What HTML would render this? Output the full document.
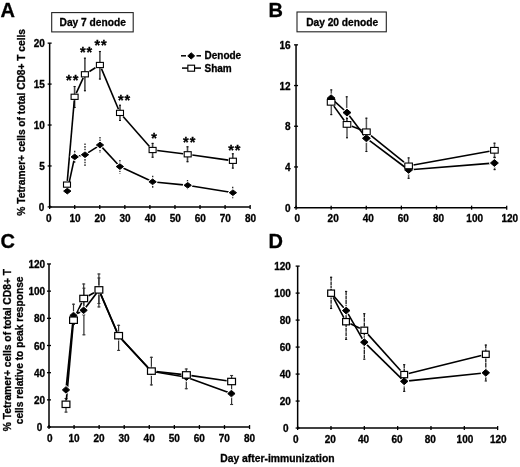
<!DOCTYPE html>
<html><head><meta charset="utf-8"><style>
html,body{margin:0;padding:0;background:#fff;}
svg{display:block;will-change:transform;}
text{font-family:"Liberation Sans",sans-serif;font-weight:bold;fill:#000;stroke:#000;stroke-width:0.3px;}
</style></head><body>
<svg width="520" height="467" viewBox="0 0 520 467">
<rect width="520" height="467" fill="#fff"/>
<text x="0.5" y="16.8" font-size="20" text-anchor="start" >A</text>
<rect x="51.7" y="12.6" width="81.5" height="19.3" fill="#fff" stroke="#222" stroke-width="1.1"/>
<text x="59.6" y="25.5" font-size="10.2" text-anchor="start" >Day 7 denode</text>
<line x1="49.65" y1="206.9" x2="49.65" y2="43.15" stroke="#000" stroke-width="1.5" />
<line x1="49.65" y1="206.9" x2="250.15" y2="206.9" stroke="#000" stroke-width="1.5" />
<line x1="47.65" y1="206.9" x2="51.65" y2="206.9" stroke="#000" stroke-width="1.3" />
<text x="44.25" y="211.0" font-size="10" text-anchor="end" >0</text>
<line x1="47.65" y1="165.96" x2="51.65" y2="165.96" stroke="#000" stroke-width="1.3" />
<text x="44.85" y="170.06" font-size="10" text-anchor="end" >5</text>
<line x1="47.65" y1="125.02000000000001" x2="51.65" y2="125.02000000000001" stroke="#000" stroke-width="1.3" />
<text x="44.85" y="129.12" font-size="10" text-anchor="end" >10</text>
<line x1="47.65" y1="84.08000000000001" x2="51.65" y2="84.08000000000001" stroke="#000" stroke-width="1.3" />
<text x="44.85" y="88.18" font-size="10" text-anchor="end" >15</text>
<line x1="47.65" y1="43.140000000000015" x2="51.65" y2="43.140000000000015" stroke="#000" stroke-width="1.3" />
<text x="44.85" y="47.240000000000016" font-size="10" text-anchor="end" >20</text>
<line x1="49.65" y1="204.9" x2="49.65" y2="208.9" stroke="#000" stroke-width="1.3" />
<text x="48.9" y="222.1" font-size="10" text-anchor="middle" >0</text>
<line x1="74.7125" y1="204.9" x2="74.7125" y2="208.9" stroke="#000" stroke-width="1.3" />
<text x="75.0125" y="222.1" font-size="10" text-anchor="middle" >10</text>
<line x1="99.775" y1="204.9" x2="99.775" y2="208.9" stroke="#000" stroke-width="1.3" />
<text x="100.075" y="222.1" font-size="10" text-anchor="middle" >20</text>
<line x1="124.8375" y1="204.9" x2="124.8375" y2="208.9" stroke="#000" stroke-width="1.3" />
<text x="125.1375" y="222.1" font-size="10" text-anchor="middle" >30</text>
<line x1="149.9" y1="204.9" x2="149.9" y2="208.9" stroke="#000" stroke-width="1.3" />
<text x="150.20000000000002" y="222.1" font-size="10" text-anchor="middle" >40</text>
<line x1="174.9625" y1="204.9" x2="174.9625" y2="208.9" stroke="#000" stroke-width="1.3" />
<text x="175.26250000000002" y="222.1" font-size="10" text-anchor="middle" >50</text>
<line x1="200.025" y1="204.9" x2="200.025" y2="208.9" stroke="#000" stroke-width="1.3" />
<text x="200.32500000000002" y="222.1" font-size="10" text-anchor="middle" >60</text>
<line x1="225.0875" y1="204.9" x2="225.0875" y2="208.9" stroke="#000" stroke-width="1.3" />
<text x="225.38750000000002" y="222.1" font-size="10" text-anchor="middle" >70</text>
<line x1="250.15" y1="204.9" x2="250.15" y2="208.9" stroke="#000" stroke-width="1.3" />
<text x="250.45000000000002" y="222.1" font-size="10" text-anchor="middle" >80</text>
<text x="0" y="0" font-size="10.2" text-anchor="middle" transform="translate(24.8,122.3) rotate(-90)">% Tetramer+ cells of total CD8+ T cells</text>
<line x1="74.6" y1="86" x2="74.6" y2="108" stroke="#4a4a4a" stroke-width="1.6" />
<line x1="73.6" y1="86.5" x2="75.6" y2="86.5" stroke="#111" stroke-width="1.1" />
<line x1="73.6" y1="107.5" x2="75.6" y2="107.5" stroke="#111" stroke-width="1.1" />
<line x1="84.9" y1="57.7" x2="84.9" y2="91.2" stroke="#4a4a4a" stroke-width="1.6" />
<line x1="83.9" y1="58.2" x2="85.9" y2="58.2" stroke="#111" stroke-width="1.1" />
<line x1="83.9" y1="90.7" x2="85.9" y2="90.7" stroke="#111" stroke-width="1.1" />
<line x1="99.9" y1="51" x2="99.9" y2="79.5" stroke="#4a4a4a" stroke-width="1.6" />
<line x1="98.9" y1="51.5" x2="100.9" y2="51.5" stroke="#111" stroke-width="1.1" />
<line x1="98.9" y1="79.0" x2="100.9" y2="79.0" stroke="#111" stroke-width="1.1" />
<line x1="120" y1="104.8" x2="120" y2="121" stroke="#4a4a4a" stroke-width="1.6" />
<line x1="119.0" y1="105.3" x2="121.0" y2="105.3" stroke="#111" stroke-width="1.1" />
<line x1="119.0" y1="120.5" x2="121.0" y2="120.5" stroke="#111" stroke-width="1.1" />
<line x1="152.6" y1="142.9" x2="152.6" y2="157.7" stroke="#4a4a4a" stroke-width="1.6" />
<line x1="151.6" y1="143.4" x2="153.6" y2="143.4" stroke="#111" stroke-width="1.1" />
<line x1="151.6" y1="157.2" x2="153.6" y2="157.2" stroke="#111" stroke-width="1.1" />
<line x1="187.5" y1="146.3" x2="187.5" y2="162.2" stroke="#4a4a4a" stroke-width="1.6" />
<line x1="186.5" y1="146.8" x2="188.5" y2="146.8" stroke="#111" stroke-width="1.1" />
<line x1="186.5" y1="161.7" x2="188.5" y2="161.7" stroke="#111" stroke-width="1.1" />
<line x1="232.8" y1="153.3" x2="232.8" y2="168.6" stroke="#4a4a4a" stroke-width="1.6" />
<line x1="231.8" y1="153.8" x2="233.8" y2="153.8" stroke="#111" stroke-width="1.1" />
<line x1="231.8" y1="168.1" x2="233.8" y2="168.1" stroke="#111" stroke-width="1.1" />
<line x1="74.7" y1="150.8" x2="74.7" y2="163" stroke="#222" stroke-width="1.3" stroke-dasharray="1.6 1"/>
<line x1="85" y1="143.5" x2="85" y2="166.6" stroke="#222" stroke-width="1.3" stroke-dasharray="1.6 1"/>
<line x1="100" y1="136.9" x2="100" y2="153" stroke="#222" stroke-width="1.3" stroke-dasharray="1.6 1"/>
<line x1="119.9" y1="160" x2="119.9" y2="173.5" stroke="#222" stroke-width="1.3" stroke-dasharray="1.6 1"/>
<line x1="152.7" y1="175.7" x2="152.7" y2="188.6" stroke="#222" stroke-width="1.3" stroke-dasharray="1.6 1"/>
<line x1="187.5" y1="180.1" x2="187.5" y2="189.2" stroke="#222" stroke-width="1.3" stroke-dasharray="1.6 1"/>
<line x1="232.7" y1="186.8" x2="232.7" y2="198.2" stroke="#222" stroke-width="1.3" stroke-dasharray="1.6 1"/>
<line x1="68.04" y1="187.70" x2="73.96" y2="160.30" stroke="#000" stroke-width="1.6"/>
<line x1="78.56" y1="156.08" x2="81.14" y2="155.52" stroke="#000" stroke-width="1.6"/>
<line x1="87.79" y1="152.89" x2="97.21" y2="146.81" stroke="#000" stroke-width="1.6"/>
<line x1="102.16" y1="147.35" x2="117.74" y2="164.25" stroke="#000" stroke-width="1.6"/>
<line x1="123.06" y1="168.07" x2="149.44" y2="180.33" stroke="#000" stroke-width="1.6"/>
<line x1="156.88" y1="182.23" x2="183.42" y2="184.87" stroke="#000" stroke-width="1.6"/>
<line x1="191.73" y1="185.96" x2="228.87" y2="192.04" stroke="#000" stroke-width="1.6"/>
<line x1="67.32" y1="180.90" x2="74.28" y2="100.50" stroke="#000" stroke-width="1.6"/>
<line x1="76.27" y1="93.15" x2="83.23" y2="77.95" stroke="#000" stroke-width="1.6"/>
<line x1="89.41" y1="71.50" x2="95.39" y2="67.80" stroke="#000" stroke-width="1.6"/>
<line x1="101.43" y1="68.65" x2="118.47" y2="109.25" stroke="#000" stroke-width="1.6"/>
<line x1="123.12" y1="116.45" x2="149.48" y2="146.45" stroke="#000" stroke-width="1.6"/>
<line x1="157.20" y1="150.56" x2="183.10" y2="153.74" stroke="#000" stroke-width="1.6"/>
<line x1="192.29" y1="154.96" x2="228.31" y2="160.14" stroke="#000" stroke-width="1.6"/>
<path d="M63.65 191.10L67.30 188.30L70.95 191.10L67.30 193.90Z" fill="#fff" stroke="#fff" stroke-width="2.6" stroke-linejoin="round"/>
<path d="M63.65 191.10L67.30 188.30L70.95 191.10L67.30 193.90Z" fill="#000" stroke="#000" stroke-width="1.0" stroke-linejoin="round"/>
<path d="M71.05 156.90L74.70 154.10L78.35 156.90L74.70 159.70Z" fill="#fff" stroke="#fff" stroke-width="2.6" stroke-linejoin="round"/>
<path d="M71.05 156.90L74.70 154.10L78.35 156.90L74.70 159.70Z" fill="#000" stroke="#000" stroke-width="1.0" stroke-linejoin="round"/>
<path d="M81.35 154.70L85.00 151.90L88.65 154.70L85.00 157.50Z" fill="#fff" stroke="#fff" stroke-width="2.6" stroke-linejoin="round"/>
<path d="M81.35 154.70L85.00 151.90L88.65 154.70L85.00 157.50Z" fill="#000" stroke="#000" stroke-width="1.0" stroke-linejoin="round"/>
<path d="M96.35 145.00L100.00 142.20L103.65 145.00L100.00 147.80Z" fill="#fff" stroke="#fff" stroke-width="2.6" stroke-linejoin="round"/>
<path d="M96.35 145.00L100.00 142.20L103.65 145.00L100.00 147.80Z" fill="#000" stroke="#000" stroke-width="1.0" stroke-linejoin="round"/>
<path d="M116.25 166.60L119.90 163.80L123.55 166.60L119.90 169.40Z" fill="#fff" stroke="#fff" stroke-width="2.6" stroke-linejoin="round"/>
<path d="M116.25 166.60L119.90 163.80L123.55 166.60L119.90 169.40Z" fill="#000" stroke="#000" stroke-width="1.0" stroke-linejoin="round"/>
<path d="M148.95 181.80L152.60 179.00L156.25 181.80L152.60 184.60Z" fill="#fff" stroke="#fff" stroke-width="2.6" stroke-linejoin="round"/>
<path d="M148.95 181.80L152.60 179.00L156.25 181.80L152.60 184.60Z" fill="#000" stroke="#000" stroke-width="1.0" stroke-linejoin="round"/>
<path d="M184.05 185.30L187.70 182.50L191.35 185.30L187.70 188.10Z" fill="#fff" stroke="#fff" stroke-width="2.6" stroke-linejoin="round"/>
<path d="M184.05 185.30L187.70 182.50L191.35 185.30L187.70 188.10Z" fill="#000" stroke="#000" stroke-width="1.0" stroke-linejoin="round"/>
<path d="M229.25 192.70L232.90 189.90L236.55 192.70L232.90 195.50Z" fill="#fff" stroke="#fff" stroke-width="2.6" stroke-linejoin="round"/>
<path d="M229.25 192.70L232.90 189.90L236.55 192.70L232.90 195.50Z" fill="#000" stroke="#000" stroke-width="1.0" stroke-linejoin="round"/>
<rect x="63.50" y="182.00" width="7.0" height="5.2" fill="#fff" stroke="#000" stroke-width="1.1"/>
<rect x="71.10" y="94.20" width="7.0" height="5.2" fill="#fff" stroke="#000" stroke-width="1.1"/>
<rect x="81.40" y="71.70" width="7.0" height="5.2" fill="#fff" stroke="#000" stroke-width="1.1"/>
<rect x="96.40" y="62.40" width="7.0" height="5.2" fill="#fff" stroke="#000" stroke-width="1.1"/>
<rect x="116.50" y="110.30" width="7.0" height="5.2" fill="#fff" stroke="#000" stroke-width="1.1"/>
<rect x="149.10" y="147.40" width="7.0" height="5.2" fill="#fff" stroke="#000" stroke-width="1.1"/>
<rect x="184.20" y="151.70" width="7.0" height="5.2" fill="#fff" stroke="#000" stroke-width="1.1"/>
<rect x="229.40" y="158.20" width="7.0" height="5.2" fill="#fff" stroke="#000" stroke-width="1.1"/>
<text x="72.65" y="85.2" font-size="14.5" text-anchor="middle" letter-spacing="0.9">**</text>
<text x="86.45" y="56.8" font-size="14.5" text-anchor="middle" letter-spacing="0.9">**</text>
<text x="101.05" y="50.4" font-size="14.5" text-anchor="middle" letter-spacing="0.9">**</text>
<text x="124.45" y="104.8" font-size="14.5" text-anchor="middle" letter-spacing="0.9">**</text>
<text x="154" y="143.2" font-size="14.5" text-anchor="middle" >*</text>
<text x="189.64999999999998" y="146.7" font-size="14.5" text-anchor="middle" letter-spacing="0.9">**</text>
<text x="234.85" y="154.8" font-size="14.5" text-anchor="middle" letter-spacing="0.9">**</text>
<line x1="181" y1="55.8" x2="186" y2="55.8" stroke="#000" stroke-width="1.5" />
<line x1="196.5" y1="55.8" x2="201" y2="55.8" stroke="#000" stroke-width="1.5" />
<path d="M187.75 55.90L191.20 52.80L194.65 55.90L191.20 59.00Z" fill="#000" stroke="#000" stroke-width="1.0" stroke-linejoin="round"/>
<line x1="182" y1="68.1" x2="201" y2="68.1" stroke="#000" stroke-width="1.5" />
<rect x="187.85" y="65.20" width="6.7" height="6" fill="#fff" stroke="#000" stroke-width="1.15"/>
<text x="204.5" y="59.4" font-size="10" text-anchor="start" >Denode</text>
<text x="204.5" y="71.7" font-size="10" text-anchor="start" >Sham</text>
<text x="268.5" y="16.9" font-size="20" text-anchor="start" >B</text>
<rect x="297" y="12" width="89.3" height="19.8" fill="#fff" stroke="#222" stroke-width="1.1"/>
<text x="306.2" y="25.5" font-size="10.2" text-anchor="start" >Day 20 denode</text>
<line x1="296.05" y1="207.65" x2="296.05" y2="44.85" stroke="#000" stroke-width="1.5" />
<line x1="296.05" y1="207.65" x2="506.7" y2="207.65" stroke="#000" stroke-width="1.5" />
<line x1="294.05" y1="207.65" x2="298.05" y2="207.65" stroke="#000" stroke-width="1.3" />
<text x="290.55" y="211.75" font-size="10" text-anchor="end" >0</text>
<line x1="294.05" y1="166.95" x2="298.05" y2="166.95" stroke="#000" stroke-width="1.3" />
<text x="290.55" y="171.04999999999998" font-size="10" text-anchor="end" >4</text>
<line x1="294.05" y1="126.25" x2="298.05" y2="126.25" stroke="#000" stroke-width="1.3" />
<text x="290.55" y="130.35" font-size="10" text-anchor="end" >8</text>
<line x1="294.05" y1="85.55" x2="298.05" y2="85.55" stroke="#000" stroke-width="1.3" />
<text x="290.55" y="89.64999999999999" font-size="10" text-anchor="end" >12</text>
<line x1="294.05" y1="44.849999999999994" x2="298.05" y2="44.849999999999994" stroke="#000" stroke-width="1.3" />
<text x="290.55" y="48.949999999999996" font-size="10" text-anchor="end" >16</text>
<line x1="296.05" y1="205.65" x2="296.05" y2="209.65" stroke="#000" stroke-width="1.3" />
<text x="297.40000000000003" y="222.15" font-size="10" text-anchor="middle" >0</text>
<line x1="331.158" y1="205.65" x2="331.158" y2="209.65" stroke="#000" stroke-width="1.3" />
<text x="333.158" y="222.15" font-size="10" text-anchor="middle" >20</text>
<line x1="366.266" y1="205.65" x2="366.266" y2="209.65" stroke="#000" stroke-width="1.3" />
<text x="368.266" y="222.15" font-size="10" text-anchor="middle" >40</text>
<line x1="401.374" y1="205.65" x2="401.374" y2="209.65" stroke="#000" stroke-width="1.3" />
<text x="403.374" y="222.15" font-size="10" text-anchor="middle" >60</text>
<line x1="436.48199999999997" y1="205.65" x2="436.48199999999997" y2="209.65" stroke="#000" stroke-width="1.3" />
<text x="438.48199999999997" y="222.15" font-size="10" text-anchor="middle" >80</text>
<line x1="471.59000000000003" y1="205.65" x2="471.59000000000003" y2="209.65" stroke="#000" stroke-width="1.3" />
<text x="474.69000000000005" y="222.15" font-size="10" text-anchor="middle" >100</text>
<line x1="506.698" y1="205.65" x2="506.698" y2="209.65" stroke="#000" stroke-width="1.3" />
<text x="509.798" y="222.15" font-size="10" text-anchor="middle" >120</text>
<line x1="331.3" y1="89.4" x2="331.3" y2="115.1" stroke="#585858" stroke-width="1.5" />
<line x1="330.3" y1="89.9" x2="332.3" y2="89.9" stroke="#111" stroke-width="1.1" />
<line x1="330.3" y1="114.6" x2="332.3" y2="114.6" stroke="#111" stroke-width="1.1" />
<line x1="346.7" y1="96.3" x2="346.7" y2="128" stroke="#585858" stroke-width="1.5" />
<line x1="345.7" y1="96.8" x2="347.7" y2="96.8" stroke="#111" stroke-width="1.1" />
<line x1="345.7" y1="127.5" x2="347.7" y2="127.5" stroke="#111" stroke-width="1.1" />
<line x1="347" y1="118" x2="347" y2="138.2" stroke="#585858" stroke-width="1.5" />
<line x1="346.0" y1="118.5" x2="348.0" y2="118.5" stroke="#111" stroke-width="1.1" />
<line x1="346.0" y1="137.7" x2="348.0" y2="137.7" stroke="#111" stroke-width="1.1" />
<line x1="366.4" y1="117.7" x2="366.4" y2="152" stroke="#585858" stroke-width="1.5" />
<line x1="365.4" y1="118.2" x2="367.4" y2="118.2" stroke="#111" stroke-width="1.1" />
<line x1="365.4" y1="151.5" x2="367.4" y2="151.5" stroke="#111" stroke-width="1.1" />
<line x1="408.6" y1="157.4" x2="408.6" y2="178.8" stroke="#585858" stroke-width="1.5" />
<line x1="407.6" y1="157.9" x2="409.6" y2="157.9" stroke="#111" stroke-width="1.1" />
<line x1="407.6" y1="178.3" x2="409.6" y2="178.3" stroke="#111" stroke-width="1.1" />
<line x1="494.5" y1="142.7" x2="494.5" y2="157.7" stroke="#585858" stroke-width="1.5" />
<line x1="493.5" y1="143.2" x2="495.5" y2="143.2" stroke="#111" stroke-width="1.1" />
<line x1="493.5" y1="157.2" x2="495.5" y2="157.2" stroke="#111" stroke-width="1.1" />
<line x1="494.6" y1="157" x2="494.6" y2="170.1" stroke="#585858" stroke-width="1.5" />
<line x1="493.6" y1="157.5" x2="495.6" y2="157.5" stroke="#111" stroke-width="1.1" />
<line x1="493.6" y1="169.6" x2="495.6" y2="169.6" stroke="#111" stroke-width="1.1" />
<line x1="333.73" y1="100.58" x2="344.37" y2="110.22" stroke="#000" stroke-width="1.6"/>
<line x1="349.13" y1="115.43" x2="364.27" y2="135.47" stroke="#000" stroke-width="1.6"/>
<line x1="369.28" y1="140.46" x2="405.72" y2="167.74" stroke="#000" stroke-width="1.6"/>
<line x1="413.27" y1="169.52" x2="489.73" y2="163.38" stroke="#000" stroke-width="1.6"/>
<line x1="333.86" y1="106.14" x2="344.24" y2="120.56" stroke="#000" stroke-width="1.6"/>
<line x1="351.86" y1="126.25" x2="361.54" y2="129.95" stroke="#000" stroke-width="1.6"/>
<line x1="371.01" y1="135.53" x2="403.99" y2="162.17" stroke="#000" stroke-width="1.6"/>
<line x1="413.49" y1="165.01" x2="489.51" y2="151.19" stroke="#000" stroke-width="1.6"/>
<path d="M327.15 98.20L331.10 94.80L335.05 98.20L331.10 101.60Z" fill="#fff" stroke="#fff" stroke-width="2.6" stroke-linejoin="round"/>
<path d="M327.15 98.20L331.10 94.80L335.05 98.20L331.10 101.60Z" fill="#000" stroke="#000" stroke-width="1.0" stroke-linejoin="round"/>
<path d="M343.05 112.60L347.00 109.20L350.95 112.60L347.00 116.00Z" fill="#fff" stroke="#fff" stroke-width="2.6" stroke-linejoin="round"/>
<path d="M343.05 112.60L347.00 109.20L350.95 112.60L347.00 116.00Z" fill="#000" stroke="#000" stroke-width="1.0" stroke-linejoin="round"/>
<path d="M362.45 138.30L366.40 134.90L370.35 138.30L366.40 141.70Z" fill="#fff" stroke="#fff" stroke-width="2.6" stroke-linejoin="round"/>
<path d="M362.45 138.30L366.40 134.90L370.35 138.30L366.40 141.70Z" fill="#000" stroke="#000" stroke-width="1.0" stroke-linejoin="round"/>
<path d="M404.65 169.90L408.60 166.50L412.55 169.90L408.60 173.30Z" fill="#fff" stroke="#fff" stroke-width="2.6" stroke-linejoin="round"/>
<path d="M404.65 169.90L408.60 166.50L412.55 169.90L408.60 173.30Z" fill="#000" stroke="#000" stroke-width="1.0" stroke-linejoin="round"/>
<path d="M490.45 163.00L494.40 159.60L498.35 163.00L494.40 166.40Z" fill="#fff" stroke="#fff" stroke-width="2.6" stroke-linejoin="round"/>
<path d="M490.45 163.00L494.40 159.60L498.35 163.00L494.40 166.40Z" fill="#000" stroke="#000" stroke-width="1.0" stroke-linejoin="round"/>
<rect x="327.30" y="99.45" width="7.6" height="5.7" fill="#fff" stroke="#000" stroke-width="1.1"/>
<rect x="343.20" y="121.55" width="7.6" height="5.7" fill="#fff" stroke="#000" stroke-width="1.1"/>
<rect x="362.60" y="128.95" width="7.6" height="5.7" fill="#fff" stroke="#000" stroke-width="1.1"/>
<rect x="404.80" y="163.05" width="7.6" height="5.7" fill="#fff" stroke="#000" stroke-width="1.1"/>
<rect x="490.60" y="147.45" width="7.6" height="5.7" fill="#fff" stroke="#000" stroke-width="1.1"/>
<text x="0.5" y="248.2" font-size="20" text-anchor="start" >C</text>
<line x1="49" y1="427.05" x2="49" y2="263.95" stroke="#000" stroke-width="1.5" />
<line x1="49" y1="427.05" x2="249.55" y2="427.05" stroke="#000" stroke-width="1.5" />
<line x1="47" y1="427.05" x2="51" y2="427.05" stroke="#000" stroke-width="1.3" />
<text x="42.4" y="431.15000000000003" font-size="10" text-anchor="end" >0</text>
<line x1="47" y1="399.867" x2="51" y2="399.867" stroke="#000" stroke-width="1.3" />
<text x="45.1" y="403.96700000000004" font-size="10" text-anchor="end" >20</text>
<line x1="47" y1="372.684" x2="51" y2="372.684" stroke="#000" stroke-width="1.3" />
<text x="45.1" y="376.78400000000005" font-size="10" text-anchor="end" >40</text>
<line x1="47" y1="345.501" x2="51" y2="345.501" stroke="#000" stroke-width="1.3" />
<text x="45.1" y="349.601" font-size="10" text-anchor="end" >60</text>
<line x1="47" y1="318.318" x2="51" y2="318.318" stroke="#000" stroke-width="1.3" />
<text x="45.1" y="322.418" font-size="10" text-anchor="end" >80</text>
<line x1="47" y1="291.135" x2="51" y2="291.135" stroke="#000" stroke-width="1.3" />
<text x="45.1" y="295.235" font-size="10" text-anchor="end" >100</text>
<line x1="47" y1="263.952" x2="51" y2="263.952" stroke="#000" stroke-width="1.3" />
<text x="45.1" y="268.052" font-size="10" text-anchor="end" >120</text>
<line x1="49.0" y1="425.05" x2="49.0" y2="429.05" stroke="#000" stroke-width="1.3" />
<text x="49.8" y="441.55" font-size="10" text-anchor="middle" >0</text>
<line x1="74.069" y1="425.05" x2="74.069" y2="429.05" stroke="#000" stroke-width="1.3" />
<text x="73.96900000000001" y="441.55" font-size="10" text-anchor="middle" >10</text>
<line x1="99.138" y1="425.05" x2="99.138" y2="429.05" stroke="#000" stroke-width="1.3" />
<text x="99.03800000000001" y="441.55" font-size="10" text-anchor="middle" >20</text>
<line x1="124.207" y1="425.05" x2="124.207" y2="429.05" stroke="#000" stroke-width="1.3" />
<text x="124.107" y="441.55" font-size="10" text-anchor="middle" >30</text>
<line x1="149.276" y1="425.05" x2="149.276" y2="429.05" stroke="#000" stroke-width="1.3" />
<text x="149.17600000000002" y="441.55" font-size="10" text-anchor="middle" >40</text>
<line x1="174.345" y1="425.05" x2="174.345" y2="429.05" stroke="#000" stroke-width="1.3" />
<text x="174.245" y="441.55" font-size="10" text-anchor="middle" >50</text>
<line x1="199.414" y1="425.05" x2="199.414" y2="429.05" stroke="#000" stroke-width="1.3" />
<text x="199.314" y="441.55" font-size="10" text-anchor="middle" >60</text>
<line x1="224.483" y1="425.05" x2="224.483" y2="429.05" stroke="#000" stroke-width="1.3" />
<text x="224.383" y="441.55" font-size="10" text-anchor="middle" >70</text>
<line x1="249.552" y1="425.05" x2="249.552" y2="429.05" stroke="#000" stroke-width="1.3" />
<text x="249.452" y="441.55" font-size="10" text-anchor="middle" >80</text>
<text x="0" y="0" font-size="10.26" text-anchor="middle" transform="translate(10.9,350.1) rotate(-90)">% Tetramer+ cells of total CD8+ T</text>
<text x="0" y="0" font-size="10.2" text-anchor="middle" transform="translate(23.3,350.4) rotate(-90)">cells relative to peak response</text>
<line x1="66" y1="398" x2="66" y2="412.6" stroke="#333" stroke-width="1.2" />
<line x1="64.5" y1="398.5" x2="67.5" y2="398.5" stroke="#333" stroke-width="1.1" />
<line x1="64.5" y1="412.1" x2="67.5" y2="412.1" stroke="#333" stroke-width="1.1" />
<line x1="73.5" y1="303.7" x2="73.5" y2="325" stroke="#333" stroke-width="1.2" />
<line x1="72.0" y1="304.2" x2="75.0" y2="304.2" stroke="#333" stroke-width="1.1" />
<line x1="72.0" y1="324.5" x2="75.0" y2="324.5" stroke="#333" stroke-width="1.1" />
<line x1="83.7" y1="283.5" x2="83.7" y2="315.3" stroke="#333" stroke-width="1.2" />
<line x1="82.2" y1="284.0" x2="85.2" y2="284.0" stroke="#333" stroke-width="1.1" />
<line x1="82.2" y1="314.8" x2="85.2" y2="314.8" stroke="#333" stroke-width="1.1" />
<line x1="83.9" y1="287.7" x2="83.9" y2="335.3" stroke="#333" stroke-width="1.2" />
<line x1="82.4" y1="288.2" x2="85.4" y2="288.2" stroke="#333" stroke-width="1.1" />
<line x1="82.4" y1="334.8" x2="85.4" y2="334.8" stroke="#333" stroke-width="1.1" />
<line x1="98.9" y1="273.5" x2="98.9" y2="304" stroke="#333" stroke-width="1.2" />
<line x1="97.4" y1="274.0" x2="100.4" y2="274.0" stroke="#333" stroke-width="1.1" />
<line x1="97.4" y1="303.5" x2="100.4" y2="303.5" stroke="#333" stroke-width="1.1" />
<line x1="98.9" y1="277.5" x2="98.9" y2="307.4" stroke="#333" stroke-width="1.2" />
<line x1="97.4" y1="278.0" x2="100.4" y2="278.0" stroke="#333" stroke-width="1.1" />
<line x1="97.4" y1="306.9" x2="100.4" y2="306.9" stroke="#333" stroke-width="1.1" />
<line x1="118.6" y1="324.8" x2="118.6" y2="350.9" stroke="#333" stroke-width="1.2" />
<line x1="117.1" y1="325.3" x2="120.1" y2="325.3" stroke="#333" stroke-width="1.1" />
<line x1="117.1" y1="350.4" x2="120.1" y2="350.4" stroke="#333" stroke-width="1.1" />
<line x1="151.4" y1="356.8" x2="151.4" y2="385.4" stroke="#333" stroke-width="1.2" />
<line x1="149.9" y1="357.3" x2="152.9" y2="357.3" stroke="#333" stroke-width="1.1" />
<line x1="149.9" y1="384.9" x2="152.9" y2="384.9" stroke="#333" stroke-width="1.1" />
<line x1="186.3" y1="368.5" x2="186.3" y2="389.2" stroke="#333" stroke-width="1.2" />
<line x1="184.8" y1="369.0" x2="187.8" y2="369.0" stroke="#333" stroke-width="1.1" />
<line x1="184.8" y1="388.7" x2="187.8" y2="388.7" stroke="#333" stroke-width="1.1" />
<line x1="231.6" y1="375" x2="231.6" y2="405" stroke="#333" stroke-width="1.2" />
<line x1="230.1" y1="375.5" x2="233.1" y2="375.5" stroke="#333" stroke-width="1.1" />
<line x1="230.1" y1="404.5" x2="233.1" y2="404.5" stroke="#333" stroke-width="1.1" />
<line x1="66.41" y1="385.87" x2="73.09" y2="319.53" stroke="#000" stroke-width="1.7"/>
<line x1="76.68" y1="313.86" x2="80.42" y2="311.94" stroke="#000" stroke-width="1.7"/>
<line x1="85.64" y1="307.59" x2="96.86" y2="292.71" stroke="#000" stroke-width="1.7"/>
<line x1="100.29" y1="293.26" x2="117.21" y2="332.74" stroke="#000" stroke-width="1.7"/>
<line x1="120.90" y1="338.48" x2="149.10" y2="368.82" stroke="#000" stroke-width="1.7"/>
<line x1="155.49" y1="371.99" x2="182.31" y2="376.51" stroke="#000" stroke-width="1.7"/>
<line x1="189.92" y1="378.48" x2="227.88" y2="392.32" stroke="#000" stroke-width="1.7"/>
<line x1="66.38" y1="400.00" x2="73.12" y2="324.50" stroke="#000" stroke-width="1.7"/>
<line x1="75.49" y1="315.96" x2="81.71" y2="302.74" stroke="#000" stroke-width="1.7"/>
<line x1="88.62" y1="295.72" x2="93.98" y2="292.68" stroke="#000" stroke-width="1.7"/>
<line x1="100.73" y1="294.15" x2="116.77" y2="331.45" stroke="#000" stroke-width="1.7"/>
<line x1="122.44" y1="339.84" x2="147.56" y2="366.96" stroke="#000" stroke-width="1.7"/>
<line x1="156.40" y1="371.64" x2="181.40" y2="374.36" stroke="#000" stroke-width="1.7"/>
<line x1="191.39" y1="375.63" x2="226.61" y2="380.77" stroke="#000" stroke-width="1.7"/>
<path d="M62.35 389.90L66.00 386.65L69.65 389.90L66.00 393.15Z" fill="#fff" stroke="#fff" stroke-width="2.6" stroke-linejoin="round"/>
<path d="M62.35 389.90L66.00 386.65L69.65 389.90L66.00 393.15Z" fill="#000" stroke="#000" stroke-width="1.0" stroke-linejoin="round"/>
<path d="M69.85 315.50L73.50 312.25L77.15 315.50L73.50 318.75Z" fill="#fff" stroke="#fff" stroke-width="2.6" stroke-linejoin="round"/>
<path d="M69.85 315.50L73.50 312.25L77.15 315.50L73.50 318.75Z" fill="#000" stroke="#000" stroke-width="1.0" stroke-linejoin="round"/>
<path d="M79.95 310.30L83.60 307.05L87.25 310.30L83.60 313.55Z" fill="#fff" stroke="#fff" stroke-width="2.6" stroke-linejoin="round"/>
<path d="M79.95 310.30L83.60 307.05L87.25 310.30L83.60 313.55Z" fill="#000" stroke="#000" stroke-width="1.0" stroke-linejoin="round"/>
<path d="M95.25 290.00L98.90 286.75L102.55 290.00L98.90 293.25Z" fill="#fff" stroke="#fff" stroke-width="2.6" stroke-linejoin="round"/>
<path d="M95.25 290.00L98.90 286.75L102.55 290.00L98.90 293.25Z" fill="#000" stroke="#000" stroke-width="1.0" stroke-linejoin="round"/>
<path d="M114.95 336.00L118.60 332.75L122.25 336.00L118.60 339.25Z" fill="#fff" stroke="#fff" stroke-width="2.6" stroke-linejoin="round"/>
<path d="M114.95 336.00L118.60 332.75L122.25 336.00L118.60 339.25Z" fill="#000" stroke="#000" stroke-width="1.0" stroke-linejoin="round"/>
<path d="M147.75 371.30L151.40 368.05L155.05 371.30L151.40 374.55Z" fill="#fff" stroke="#fff" stroke-width="2.6" stroke-linejoin="round"/>
<path d="M147.75 371.30L151.40 368.05L155.05 371.30L151.40 374.55Z" fill="#000" stroke="#000" stroke-width="1.0" stroke-linejoin="round"/>
<path d="M182.75 377.20L186.40 373.95L190.05 377.20L186.40 380.45Z" fill="#fff" stroke="#fff" stroke-width="2.6" stroke-linejoin="round"/>
<path d="M182.75 377.20L186.40 373.95L190.05 377.20L186.40 380.45Z" fill="#000" stroke="#000" stroke-width="1.0" stroke-linejoin="round"/>
<path d="M227.75 393.60L231.40 390.35L235.05 393.60L231.40 396.85Z" fill="#fff" stroke="#fff" stroke-width="2.6" stroke-linejoin="round"/>
<path d="M227.75 393.60L231.40 390.35L235.05 393.60L231.40 396.85Z" fill="#000" stroke="#000" stroke-width="1.0" stroke-linejoin="round"/>
<rect x="62.10" y="401.10" width="7.8" height="6.4" fill="#fff" stroke="#000" stroke-width="1.2"/>
<rect x="69.60" y="317.00" width="7.8" height="6.4" fill="#fff" stroke="#000" stroke-width="1.2"/>
<rect x="79.80" y="295.30" width="7.8" height="6.4" fill="#fff" stroke="#000" stroke-width="1.2"/>
<rect x="95.00" y="286.70" width="7.8" height="6.4" fill="#fff" stroke="#000" stroke-width="1.2"/>
<rect x="114.70" y="332.50" width="7.8" height="6.4" fill="#fff" stroke="#000" stroke-width="1.2"/>
<rect x="147.50" y="367.90" width="7.8" height="6.4" fill="#fff" stroke="#000" stroke-width="1.2"/>
<rect x="182.50" y="371.70" width="7.8" height="6.4" fill="#fff" stroke="#000" stroke-width="1.2"/>
<rect x="227.70" y="378.30" width="7.8" height="6.4" fill="#fff" stroke="#000" stroke-width="1.2"/>
<text x="268.5" y="248.1" font-size="20" text-anchor="start" >D</text>
<line x1="297.65" y1="428.05" x2="297.65" y2="266.1" stroke="#000" stroke-width="1.5" />
<line x1="297.65" y1="428.05" x2="497.65" y2="428.05" stroke="#000" stroke-width="1.5" />
<line x1="295.65" y1="428.05" x2="299.65" y2="428.05" stroke="#000" stroke-width="1.3" />
<text x="288.45" y="432.15000000000003" font-size="10" text-anchor="end" >0</text>
<line x1="295.65" y1="401.06" x2="299.65" y2="401.06" stroke="#000" stroke-width="1.3" />
<text x="290.84999999999997" y="405.16" font-size="10" text-anchor="end" >20</text>
<line x1="295.65" y1="374.07" x2="299.65" y2="374.07" stroke="#000" stroke-width="1.3" />
<text x="290.84999999999997" y="378.17" font-size="10" text-anchor="end" >40</text>
<line x1="295.65" y1="347.08000000000004" x2="299.65" y2="347.08000000000004" stroke="#000" stroke-width="1.3" />
<text x="290.84999999999997" y="351.18000000000006" font-size="10" text-anchor="end" >60</text>
<line x1="295.65" y1="320.09000000000003" x2="299.65" y2="320.09000000000003" stroke="#000" stroke-width="1.3" />
<text x="290.84999999999997" y="324.19000000000005" font-size="10" text-anchor="end" >80</text>
<line x1="295.65" y1="293.1" x2="299.65" y2="293.1" stroke="#000" stroke-width="1.3" />
<text x="290.84999999999997" y="297.20000000000005" font-size="10" text-anchor="end" >100</text>
<line x1="295.65" y1="266.11" x2="299.65" y2="266.11" stroke="#000" stroke-width="1.3" />
<text x="290.84999999999997" y="270.21000000000004" font-size="10" text-anchor="end" >120</text>
<line x1="297.65" y1="426.05" x2="297.65" y2="430.05" stroke="#000" stroke-width="1.3" />
<text x="295.79999999999995" y="442.85" font-size="10" text-anchor="middle" >0</text>
<line x1="330.98299999999995" y1="426.05" x2="330.98299999999995" y2="430.05" stroke="#000" stroke-width="1.3" />
<text x="330.28299999999996" y="442.85" font-size="10" text-anchor="middle" >20</text>
<line x1="364.316" y1="426.05" x2="364.316" y2="430.05" stroke="#000" stroke-width="1.3" />
<text x="363.616" y="442.85" font-size="10" text-anchor="middle" >40</text>
<line x1="397.649" y1="426.05" x2="397.649" y2="430.05" stroke="#000" stroke-width="1.3" />
<text x="396.949" y="442.85" font-size="10" text-anchor="middle" >60</text>
<line x1="430.98199999999997" y1="426.05" x2="430.98199999999997" y2="430.05" stroke="#000" stroke-width="1.3" />
<text x="430.282" y="442.85" font-size="10" text-anchor="middle" >80</text>
<line x1="464.31499999999994" y1="426.05" x2="464.31499999999994" y2="430.05" stroke="#000" stroke-width="1.3" />
<text x="464.9649999999999" y="442.85" font-size="10" text-anchor="middle" >100</text>
<line x1="497.64799999999997" y1="426.05" x2="497.64799999999997" y2="430.05" stroke="#000" stroke-width="1.3" />
<text x="498.29799999999994" y="442.85" font-size="10" text-anchor="middle" >120</text>
<line x1="331.1" y1="276.8" x2="331.1" y2="309" stroke="#151515" stroke-width="1.25" stroke-dasharray="4 0.6"/>
<line x1="330.0" y1="277.3" x2="332.20000000000005" y2="277.3" stroke="#151515" stroke-width="1.1" />
<line x1="330.0" y1="308.5" x2="332.20000000000005" y2="308.5" stroke="#151515" stroke-width="1.1" />
<line x1="346.1" y1="290.9" x2="346.1" y2="339.9" stroke="#151515" stroke-width="1.25" stroke-dasharray="4 0.6"/>
<line x1="345.0" y1="291.4" x2="347.20000000000005" y2="291.4" stroke="#151515" stroke-width="1.1" />
<line x1="345.0" y1="339.4" x2="347.20000000000005" y2="339.4" stroke="#151515" stroke-width="1.1" />
<line x1="364.3" y1="313.2" x2="364.3" y2="359.7" stroke="#151515" stroke-width="1.25" stroke-dasharray="4 0.6"/>
<line x1="363.2" y1="313.7" x2="365.40000000000003" y2="313.7" stroke="#151515" stroke-width="1.1" />
<line x1="363.2" y1="359.2" x2="365.40000000000003" y2="359.2" stroke="#151515" stroke-width="1.1" />
<line x1="404.2" y1="364.2" x2="404.2" y2="391.9" stroke="#151515" stroke-width="1.25" stroke-dasharray="4 0.6"/>
<line x1="403.09999999999997" y1="364.7" x2="405.3" y2="364.7" stroke="#151515" stroke-width="1.1" />
<line x1="403.09999999999997" y1="391.4" x2="405.3" y2="391.4" stroke="#151515" stroke-width="1.1" />
<line x1="485.8" y1="344.6" x2="485.8" y2="381.5" stroke="#151515" stroke-width="1.25" stroke-dasharray="4 0.6"/>
<line x1="484.7" y1="345.1" x2="486.90000000000003" y2="345.1" stroke="#151515" stroke-width="1.1" />
<line x1="484.7" y1="381.0" x2="486.90000000000003" y2="381.0" stroke="#151515" stroke-width="1.1" />
<line x1="333.35" y1="295.45" x2="343.95" y2="307.95" stroke="#000" stroke-width="1.6"/>
<line x1="347.96" y1="313.68" x2="362.54" y2="339.12" stroke="#000" stroke-width="1.6"/>
<line x1="366.78" y1="344.63" x2="401.72" y2="378.87" stroke="#000" stroke-width="1.6"/>
<line x1="408.61" y1="380.84" x2="481.39" y2="373.26" stroke="#000" stroke-width="1.6"/>
<line x1="333.29" y1="297.38" x2="343.81" y2="317.52" stroke="#000" stroke-width="1.6"/>
<line x1="350.44" y1="323.79" x2="359.86" y2="328.21" stroke="#000" stroke-width="1.6"/>
<line x1="367.99" y1="334.40" x2="400.51" y2="370.50" stroke="#000" stroke-width="1.6"/>
<line x1="408.68" y1="373.48" x2="481.32" y2="355.42" stroke="#000" stroke-width="1.6"/>
<path d="M327.35 292.80L331.10 289.40L334.85 292.80L331.10 296.20Z" fill="#fff" stroke="#fff" stroke-width="2.6" stroke-linejoin="round"/>
<path d="M327.35 292.80L331.10 289.40L334.85 292.80L331.10 296.20Z" fill="#000" stroke="#000" stroke-width="1.0" stroke-linejoin="round"/>
<path d="M342.45 310.60L346.20 307.20L349.95 310.60L346.20 314.00Z" fill="#fff" stroke="#fff" stroke-width="2.6" stroke-linejoin="round"/>
<path d="M342.45 310.60L346.20 307.20L349.95 310.60L346.20 314.00Z" fill="#000" stroke="#000" stroke-width="1.0" stroke-linejoin="round"/>
<path d="M360.55 342.20L364.30 338.80L368.05 342.20L364.30 345.60Z" fill="#fff" stroke="#fff" stroke-width="2.6" stroke-linejoin="round"/>
<path d="M360.55 342.20L364.30 338.80L368.05 342.20L364.30 345.60Z" fill="#000" stroke="#000" stroke-width="1.0" stroke-linejoin="round"/>
<path d="M400.45 381.30L404.20 377.90L407.95 381.30L404.20 384.70Z" fill="#fff" stroke="#fff" stroke-width="2.6" stroke-linejoin="round"/>
<path d="M400.45 381.30L404.20 377.90L407.95 381.30L404.20 384.70Z" fill="#000" stroke="#000" stroke-width="1.0" stroke-linejoin="round"/>
<path d="M482.05 372.80L485.80 369.40L489.55 372.80L485.80 376.20Z" fill="#fff" stroke="#fff" stroke-width="2.6" stroke-linejoin="round"/>
<path d="M482.05 372.80L485.80 369.40L489.55 372.80L485.80 376.20Z" fill="#000" stroke="#000" stroke-width="1.0" stroke-linejoin="round"/>
<rect x="327.70" y="290.05" width="6.8" height="6.3" fill="#fff" stroke="#000" stroke-width="1.2"/>
<rect x="342.60" y="318.55" width="6.8" height="6.3" fill="#fff" stroke="#000" stroke-width="1.2"/>
<rect x="360.90" y="327.15" width="6.8" height="6.3" fill="#fff" stroke="#000" stroke-width="1.2"/>
<rect x="400.80" y="371.45" width="6.8" height="6.3" fill="#fff" stroke="#000" stroke-width="1.2"/>
<rect x="482.40" y="351.15" width="6.8" height="6.3" fill="#fff" stroke="#000" stroke-width="1.2"/>
<text x="220.2" y="461.6" font-size="10.35" text-anchor="start" >Day after-immunization</text>
</svg>
</body></html>
